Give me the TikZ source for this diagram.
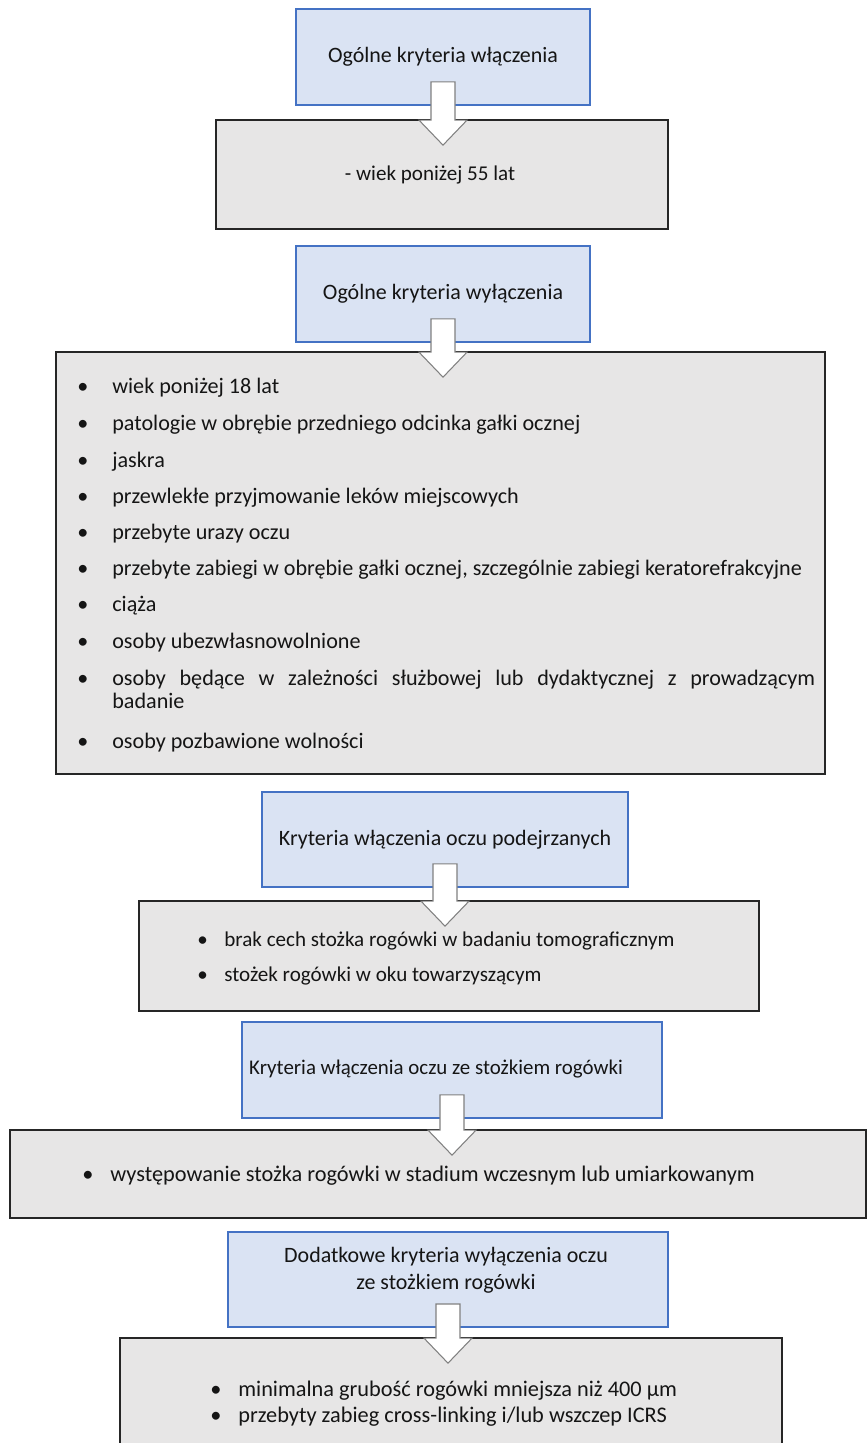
\documentclass[tikz,border=0pt]{standalone}
\usepackage{fontspec}
\setmainfont{Carlito}
\usepackage{tikz}
\usetikzlibrary{calc}
\definecolor{boxblue}{HTML}{DAE3F3}
\definecolor{lineblue}{HTML}{4472C4}
\definecolor{boxgray}{HTML}{E7E6E6}
\definecolor{textdark}{HTML}{151515}

\newcommand{\bul}[1]{\makebox[#1][l]{\textbullet}}
\newcommand{\flowarrow}[2]{%
 \draw[blockarrow] ($(#1.south)+(-12,-24)$) -- ($(#1.south |- #2.north)+(-12,1)$)
  -- ($(#1.south |- #2.north)+(-24,1)$) -- ($(#1.south |- #2.north)+(0,26)$)
  -- ($(#1.south |- #2.north)+(24,1)$) -- ($(#1.south |- #2.north)+(12,1)$)
  -- ($(#1.south)+(12,-24)$) -- cycle;}

\begin{document}
\begin{tikzpicture}[x=0.02cm,y=-0.02cm,
 every node/.style={text=textdark},
 headbox/.style={draw=lineblue,line width=1.1pt,fill=boxblue,font=\fontsize{12.5}{15.4}\selectfont},
 listbox/.style={draw=black!85,line width=1pt,fill=boxgray},
 listline/.style={anchor=base west,inner sep=0pt,font=\fontsize{12.6}{15}\selectfont},
 pointline/.style={anchor=base west,inner sep=0pt,font=\fontsize{12}{14}\selectfont},
 blockarrow/.style={draw=black!50,fill=white,line width=0.6pt,line join=miter}]
 \useasboundingbox (0,0) rectangle (867,1443);
 \clip (0,0) rectangle (867,1443);
 \fill[white] (0,0) rectangle (867,1443);

 % ogolne kryteria
 \node[headbox,minimum width=5.88cm,minimum height=1.92cm] (k1) at (443,57) {Ogólne kryteria włączenia};
 \node[listbox,minimum width=9.04cm,minimum height=2.18cm] (k2) at (442,174.5) {};
 \node[font=\fontsize{12}{14}\selectfont] (t2) at (430,175) {- wiek poniżej 55 lat};
 \node[headbox,minimum width=5.88cm,minimum height=1.92cm] (k3) at (443,294) {Ogólne kryteria wyłączenia};
 \node[listbox,minimum width=15.38cm,minimum height=8.44cm] (k4) at (440.5,563) {};
 \node[listline] (w1) at (77,393) {\bul{0.7cm}wiek poniżej 18 lat};
 \node[listline] (w2) at (77,430) {\bul{0.7cm}patologie w obrębie przedniego odcinka gałki ocznej};
 \node[listline] (w3) at (77,467) {\bul{0.7cm}jaskra};
 \node[listline] (w4) at (77,503) {\bul{0.7cm}przewlekłe przyjmowanie leków miejscowych};
 \node[listline] (w5) at (77,539) {\bul{0.7cm}przebyte urazy oczu};
 \node[listline] (w6) at (77,575) {\bul{0.7cm}przebyte zabiegi w obrębie gałki ocznej, szczególnie zabiegi keratorefrakcyjne};
 \node[listline] (w7) at (77,611) {\bul{0.7cm}ciąża};
 \node[listline] (w8) at (77,648) {\bul{0.7cm}osoby ubezwłasnowolnione};
 \node[listline] (w9) at (77,685) {\bul{0.7cm}\makebox[14.06cm][s]{osoby będące w zależności służbowej lub dydaktycznej z prowadzącym}};
 \node[listline] (w9b) at (112,708) {badanie};
 \node[listline] (w10) at (77,748) {\bul{0.7cm}osoby pozbawione wolności};

 % oczy podejrzane
 \node[headbox,minimum width=7.32cm,minimum height=1.9cm] (k5) at (445,839.5) {Kryteria włączenia oczu podejrzanych};
 \node[listbox,minimum width=12.4cm,minimum height=2.2cm] (k6) at (449,956) {};
 \node[pointline] (p1) at (197,946) {\bul{0.54cm}brak cech stożka rogówki w badaniu tomograficznym};
 \node[pointline] (p2) at (197,981) {\bul{0.54cm}stożek rogówki w oku towarzyszącym};

 % oczy ze stozkiem
 \node[headbox,minimum width=8.4cm,minimum height=1.92cm] (k7) at (452,1070) {};
 \node[font=\fontsize{11.9}{14.5}\selectfont] (t7) at (436,1069) {Kryteria włączenia oczu ze stożkiem rogówki};
 \node[listbox,minimum width=17.12cm,minimum height=1.76cm] (k8) at (438,1174) {};
 \node[pointline,font=\fontsize{12.7}{15}\selectfont] (s1) at (82,1181) {\bul{0.56cm}występowanie stożka rogówki w stadium wczesnym lub umiarkowanym};

 % dodatkowe kryteria
 \node[headbox,minimum width=8.8cm,minimum height=1.9cm] (k9) at (448,1279.5) {};
 \node[font=\fontsize{12.5}{15.4}\selectfont,align=center] (t9) at (446,1270.5) {Dodatkowe kryteria wyłączenia oczu\\ze stożkiem rogówki};
 \node[listbox,minimum width=13.24cm,minimum height=2.84cm] (k10) at (451,1409) {};
 \node[pointline,font=\fontsize{12.7}{15}\selectfont] (d1) at (210,1396) {\bul{0.56cm}minimalna grubość rogówki mniejsza niż 400 µm};
 \node[pointline,font=\fontsize{12.7}{15}\selectfont] (d2) at (210,1422) {\bul{0.56cm}przebyty zabieg cross-linking i/lub wszczep ICRS};

 \flowarrow{k1}{k2}
 \flowarrow{k3}{k4}
 \flowarrow{k5}{k6}
 \flowarrow{k7}{k8}
 \flowarrow{k9}{k10}
\end{tikzpicture}
\end{document}
